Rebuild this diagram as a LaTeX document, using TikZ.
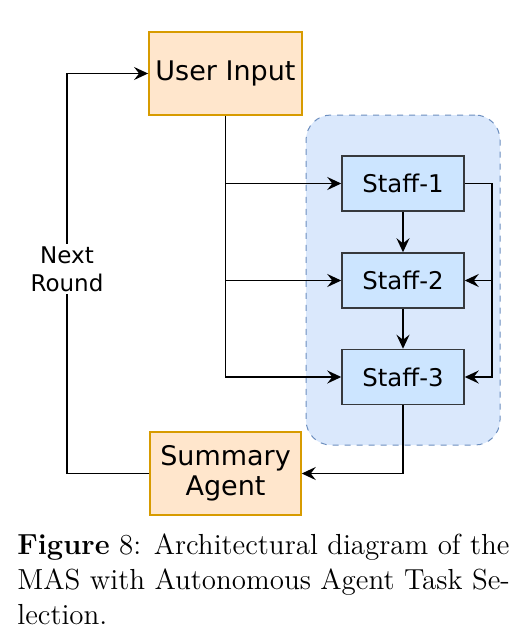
\documentclass[tikz,border=0pt]{standalone}
\usepackage{fontspec}
\newfontfamily\diagfont{DejaVu Sans}
\usetikzlibrary{arrows.meta,positioning}
\definecolor{agentfill}{HTML}{FFE6CC}
\definecolor{agentline}{HTML}{D79B00}
\definecolor{groupfill}{HTML}{DAE8FC}
\definecolor{groupline}{HTML}{6C8EBF}
\definecolor{stafffill}{HTML}{CCE5FF}
\definecolor{staffline}{HTML}{36393D}
\begin{document}
\begin{tikzpicture}[x=0.5pt,y=-0.5pt,
    agent/.style={draw=agentline,fill=agentfill,line width=0.75pt,minimum width=75.5pt,minimum height=41.5pt,align=center,font=\diagfont\fontsize{13.5}{15}\selectfont},
    staff/.style={draw=staffline,fill=stafffill,line width=0.75pt,minimum width=61pt,minimum height=27.5pt,font=\diagfont\fontsize{12.2}{14}\selectfont},
    link/.style={line width=0.75pt,-{Stealth[length=7pt,width=6.5pt,inset=2.5pt]}}]
    \useasboundingbox(0,0)rectangle(530,637);
    % staff group
    \node[draw=groupline,dashed,fill=groupfill,line width=0.5pt,rounded corners=12.5pt,minimum width=97pt,minimum height=165pt](group)at(403,280){};
    \node[agent](input)at(225.5,73.5){User Input};
    \foreach \i/\y in {1/183.5,2/280.5,3/377}{
        \node[staff](s\i)at(403,\y){Staff-\i};
    }
    \node[agent](summary)at(225.5,473.5){Summary\\Agent};
    % left bus from the input
    \draw[link](input.south)|-(s3.west);
    \draw[link](input.south|-s1.west)--(s1.west);
    \draw[link](input.south|-s2.west)--(s2.west);
    % chain and right bus
    \draw[link](s1)--(s2);
    \draw[link](s2)--(s3);
    \coordinate(rbus)at(492,0);
    \draw[link](s1.east)--(s1.east-|rbus)--(s3.east-|rbus)--(s3.east);
    \draw[link](s2.east-|rbus)--(s2.east);
    \draw[link](s3.south)|-(summary.east);
    % next round loop
    \coordinate(loop)at(67,0);
    \draw[link](summary.west)--(summary.west-|loop)--(input.west-|loop)--(input.west);
    \node[fill=white,inner sep=1pt,align=center,font=\diagfont\fontsize{11.5}{14}\selectfont](next)at(67,269){Next\\Round};
    % caption
    \node[anchor=north west,inner sep=0pt,align=left,font=\fontsize{14.5}{17.5}\selectfont](caption)at(17,533){\textbf{Figure}~8: Architectural diagram of the\\MAS with Autonomous Agent Task Se-\\lection.};
\end{tikzpicture}
\end{document}
